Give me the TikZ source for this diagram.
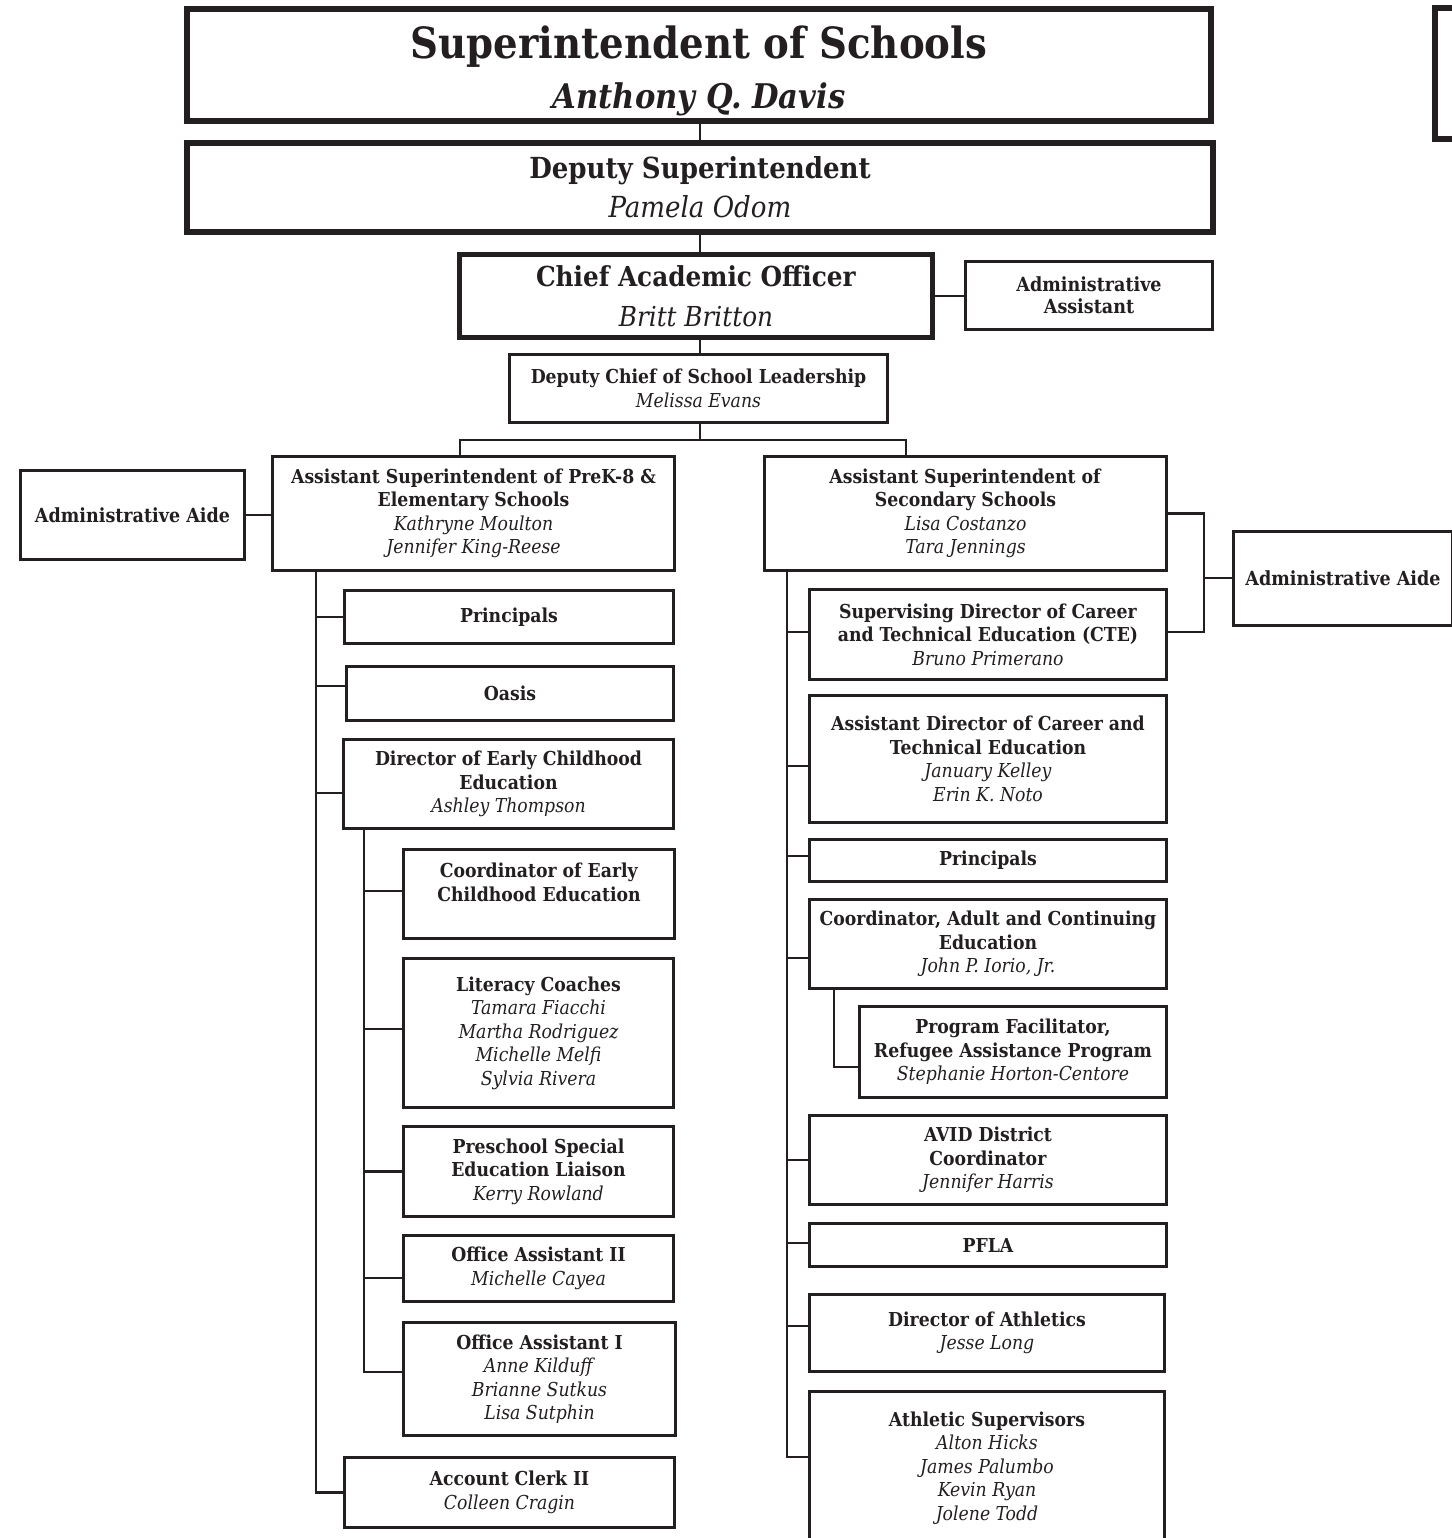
\documentclass[tikz,border=0pt]{standalone}
\usepackage{fontspec}
\setmainfont{DejaVu Serif Condensed}
\usetikzlibrary{positioning}
\definecolor{ink}{HTML}{231F20}

\begin{document}
\begin{tikzpicture}[
  x=1pt, y=-1pt,
  font=\fontsize{19.2}{23.5}\selectfont,
  box/.style={draw=ink, line width=2.6pt, inner sep=0pt, align=center, text=ink},
  bigbox/.style={box, line width=6pt},
  link/.style={draw=ink, line width=2.6pt}
]
\useasboundingbox (0,0) rectangle (1451,1538);

% top of the chart
\node[bigbox, minimum width=1024pt, minimum height=112pt, font=\fontsize{43}{50}\selectfont\bfseries]
  (supt) at (699,65) {\rule{0pt}{45pt}Superintendent of Schools\\ {\fontsize{34}{50}\selectfont\itshape Anthony Q. Davis}};
\node[bigbox, minimum width=171pt, minimum height=131pt] (nextchart) at (1520,73.5) {};
\node[bigbox, minimum width=1026pt, minimum height=89pt, font=\fontsize{29}{39}\selectfont]
  (depsup) at (700,187.5) {\textbf{Deputy Superintendent}\\ \textit{Pamela Odom}};
\node[box, line width=5pt, minimum width=473pt, minimum height=83pt, font=\fontsize{27.5}{40}\selectfont]
  (cao) at (696,296) {\textbf{Chief Academic Officer}\\ \textit{Britt Britton}};
\node[box, minimum width=247pt, minimum height=68pt, font=\fontsize{19.5}{22}\selectfont\bfseries]
  (adasst) at (1089,295.5) {Administrative\\ Assistant};
\node[box, minimum width=378pt, minimum height=68pt] (dchief) at (698.5,388.5)
  {\textbf{Deputy Chief of School Leadership}\\ \textit{Melissa Evans}};

% assistant superintendents
\node[box, minimum width=402pt, minimum height=114pt] (aselem) at (473.5,513.5)
  {\textbf{Assistant Superintendent of PreK-8 \&}\\ \textbf{Elementary Schools}\\ \textit{Kathryne Moulton}\\ \textit{Jennifer King-Reese}};
\node[box, minimum width=402pt, minimum height=114pt] (assec) at (965.5,513.5)
  {\textbf{Assistant Superintendent of}\\ \textbf{Secondary Schools}\\ \textit{Lisa Costanzo}\\ \textit{Tara Jennings}};
\node[box, minimum width=224pt, minimum height=89pt, font=\fontsize{19.5}{22}\selectfont\bfseries]
  (aidel) at (132.5,515) {Administrative Aide};
\node[box, minimum width=219pt, minimum height=94pt, font=\fontsize{19.5}{22}\selectfont\bfseries]
  (aider) at (1343,578.5) {Administrative Aide};

% elementary column
\node[box, minimum width=329pt, minimum height=53pt] (prinl) at (509,617) {\textbf{Principals}};
\node[box, minimum width=327.5pt, minimum height=54pt] (oasis) at (510,693.5) {\textbf{Oasis}};
\node[box, minimum width=330pt, minimum height=89.5pt] (direce) at (508.5,784)
  {\textbf{Director of Early Childhood}\\ \textbf{Education}\\ \textit{Ashley Thompson}};
\node[box, minimum width=271pt, minimum height=89pt] (coordece) at (539,894)
  {\textbf{Coordinator of Early}\\ \textbf{Childhood Education}\\ \mbox{}};
\node[box, minimum width=270pt, minimum height=149pt] (litco) at (538.5,1033)
  {\textbf{Literacy Coaches}\\ \textit{Tamara Fiacchi}\\ \textit{Martha Rodriguez}\\ \textit{Michelle Melfi}\\ \textit{Sylvia Rivera}};
\node[box, minimum width=270pt, minimum height=90pt] (presped) at (538.5,1171.5)
  {\textbf{Preschool Special}\\ \textbf{Education Liaison}\\ \textit{Kerry Rowland}};
\node[box, minimum width=270pt, minimum height=66pt] (offtwo) at (538.5,1268.5)
  {\textbf{Office Assistant II}\\ \textit{Michelle Cayea}};
\node[box, minimum width=272pt, minimum height=113pt] (offone) at (539.5,1379)
  {\textbf{Office Assistant I}\\ \textit{Anne Kilduff}\\ \textit{Brianne Sutkus}\\ \textit{Lisa Sutphin}};
\node[box, minimum width=330pt, minimum height=70pt] (clerk) at (509.5,1492.5)
  {\textbf{Account Clerk II}\\ \textit{Colleen Cragin}};

% secondary column
\node[box, minimum width=357pt, minimum height=90pt] (sdcte) at (988,634.5)
  {\textbf{Supervising Director of Career}\\ \textbf{and Technical Education (CTE)}\\ \textit{Bruno Primerano}};
\node[box, minimum width=357pt, minimum height=127pt] (adcte) at (988,759)
  {\textbf{Assistant Director of Career and}\\ \textbf{Technical Education}\\ \textit{January Kelley}\\ \textit{Erin K. Noto}};
\node[box, minimum width=357pt, minimum height=42pt] (prinr) at (988,860.5) {\textbf{Principals}};
\node[box, minimum width=357pt, minimum height=89pt] (coordad) at (988,944)
  {\textbf{Coordinator, Adult and Continuing}\\ \textbf{Education}\\ \textit{John P. Iorio, Jr.}};
\node[box, minimum width=307pt, minimum height=91pt] (progfac) at (1013,1052)
  {\textbf{Program Facilitator,}\\ \textbf{Refugee Assistance Program}\\ \textit{Stephanie Horton-Centore}};
\node[box, minimum width=357pt, minimum height=89pt] (avid) at (988,1160)
  {\textbf{AVID District}\\ \textbf{Coordinator}\\ \textit{Jennifer Harris}};
\node[box, minimum width=357pt, minimum height=43pt] (pfla) at (988,1245) {\textbf{PFLA}};
\node[box, minimum width=355pt, minimum height=77pt] (dirath) at (987,1333)
  {\textbf{Director of Athletics}\\ \textit{Jesse Long}};
\node[box, minimum width=355pt, minimum height=153.5pt] (athsup) at (987,1468)
  {\textbf{Athletic Supervisors}\\ \textit{Alton Hicks}\\ \textit{James Palumbo}\\ \textit{Kevin Ryan}\\ \textit{Jolene Todd}};

% junction points
\coordinate (jl) at (460,440);
\coordinate (jr) at (906,440);
\coordinate (jx) at (1204,578);
\coordinate (tl) at (316,0);
\coordinate (tsub) at (364,0);
\coordinate (tr) at (787,0);
\coordinate (tsubr) at (834,0);

% chain of command
\draw[link] (depsup.north) -- (depsup.north |- supt.south);
\draw[link] (depsup.south) -- (depsup.south |- cao.north);
\draw[link] (cao.east) -- (cao.east -| adasst.west);
\draw[link] (cao.south -| depsup.south) -- (dchief.north -| depsup.south);
\draw[link] (dchief.south -| depsup.south) -- (depsup.south |- jl);
\draw[link] (jl |- aselem.north) -- (jl) -- (jr) -- (jr |- assec.north);
\draw[link] (aidel.east) -- (aidel.east -| aselem.west);
\draw[link] (assec.east) -| (jx) |- ([yshift=2.5pt]sdcte.east);
\draw[link] (jx) -- (jx -| aider.west);

% elementary trunk
\draw[link] (tl |- aselem.south) -- (tl |- clerk.west) -- (clerk.west);
\draw[link] (tl |- prinl.west) -- (prinl.west);
\draw[link] ([yshift=7.5pt]oasis.west -| tl) -- ([yshift=7.5pt]oasis.west);
\draw[link] ([yshift=-9pt]direce.west -| tl) -- ([yshift=-9pt]direce.west);
% early childhood branch
\draw[link] (tsub |- direce.south) -- ([yshift=7pt]offone.west -| tsub) -- ([yshift=7pt]offone.west);
\draw[link] ([yshift=3pt]coordece.west -| tsub) -- ([yshift=3pt]coordece.west);
\draw[link] ([yshift=4pt]litco.west -| tsub) -- ([yshift=4pt]litco.west);
\draw[link] (presped.west -| tsub) -- (presped.west);
\draw[link] ([yshift=-9.5pt]offtwo.west -| tsub) -- ([yshift=-9.5pt]offtwo.west);

% secondary trunk
\draw[link] (tr |- assec.south) -- ([yshift=11pt]athsup.west -| tr) -- ([yshift=11pt]athsup.west);
\draw[link] ([yshift=2.5pt]sdcte.west -| tr) -- ([yshift=2.5pt]sdcte.west);
\draw[link] ([yshift=-7pt]adcte.west -| tr) -- ([yshift=-7pt]adcte.west);
\draw[link] ([yshift=4.5pt]prinr.west -| tr) -- ([yshift=4.5pt]prinr.west);
\draw[link] ([yshift=-14pt]coordad.west -| tr) -- ([yshift=-14pt]coordad.west);
\draw[link] (avid.west -| tr) -- (avid.west);
\draw[link] ([yshift=2pt]pfla.west -| tr) -- ([yshift=2pt]pfla.west);
\draw[link] ([yshift=7pt]dirath.west -| tr) -- ([yshift=7pt]dirath.west);
% adult education branch
\draw[link] (tsubr |- coordad.south) -- ([yshift=-15pt]progfac.west -| tsubr) -- ([yshift=-15pt]progfac.west);
\end{tikzpicture}
\end{document}
